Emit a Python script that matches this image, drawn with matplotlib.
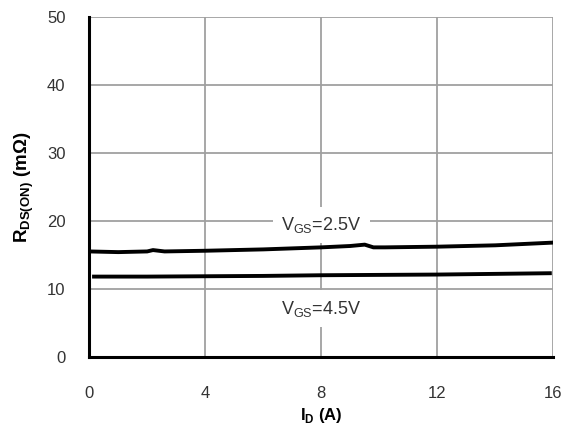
import matplotlib
matplotlib.use("Agg")
import matplotlib.pyplot as plt

plt.rcParams['font.family'] = ['Liberation Sans', 'DejaVu Sans']

# Data
id_25 = [0.0, 1.0, 2.0, 2.2, 2.6, 4.0, 6.0, 8.0, 9.0, 9.5, 9.8, 10.2, 12.0, 14.0, 16.0]
r_25 = [15.5, 15.4, 15.5, 15.7, 15.5, 15.6, 15.8, 16.1, 16.3, 16.5, 16.1, 16.1, 16.2, 16.4, 16.8]
id_45 = [0.1, 2.0, 4.0, 6.0, 8.0, 10.0, 12.0, 14.0, 15.95]
r_45 = [11.8, 11.8, 11.85, 11.9, 12.0, 12.05, 12.1, 12.2, 12.3]
xticks = [0, 4, 8, 12, 16]
yticks = [0, 10, 20, 30, 40, 50]

fig = plt.figure(figsize=(5.68, 4.32), dpi=100)
ax = fig.add_axes([0.157, 0.174, 0.817, 0.787])

ax.set_xlim(0, 16)
ax.set_ylim(0, 50)
ax.set_xticks(xticks)
ax.set_yticks(yticks)
ax.grid(True, color='#a0a0a0', linewidth=1.3)
ax.set_axisbelow(True)

ax.plot(id_25, r_25, color='black', linewidth=2.8, solid_capstyle='butt', zorder=3)
ax.plot(id_45, r_45, color='black', linewidth=2.8, solid_capstyle='butt', zorder=3)

for s in ['top', 'right']:
    ax.spines[s].set_visible(False)
for s in ['left', 'bottom']:
    ax.spines[s].set_linewidth(2.2)
    ax.spines[s].set_color('black')

ax.tick_params(axis='both', length=0, labelsize=12, colors='#333333')
ax.tick_params(axis='x', pad=21)
ax.tick_params(axis='y', pad=17)

bbox = dict(facecolor='white', edgecolor='none', pad=6)
ax.text(8.0, 19.4, r'V$_{\mathregular{GS}}$=2.5V', ha='center', va='center',
        fontsize=13, color='#333333', bbox=bbox, zorder=2)
ax.text(8.0, 7.1, r'V$_{\mathregular{GS}}$=4.5V', ha='center', va='center',
        fontsize=13, color='#333333', bbox=bbox, zorder=2)

ax.set_xlabel(r'I$_{\mathregular{D}}$ (A)', fontsize=12, fontweight='bold')
ax.set_ylabel(r'R$_{\mathregular{DS(ON)}}$ (m$\mathregular{\Omega}$)', fontsize=13.5,
              fontweight='bold')
ax.xaxis.set_label_coords(0.5, -0.145)
ax.yaxis.set_label_coords(-0.114, 0.5)

fig.savefig('out.png', dpi=100)
